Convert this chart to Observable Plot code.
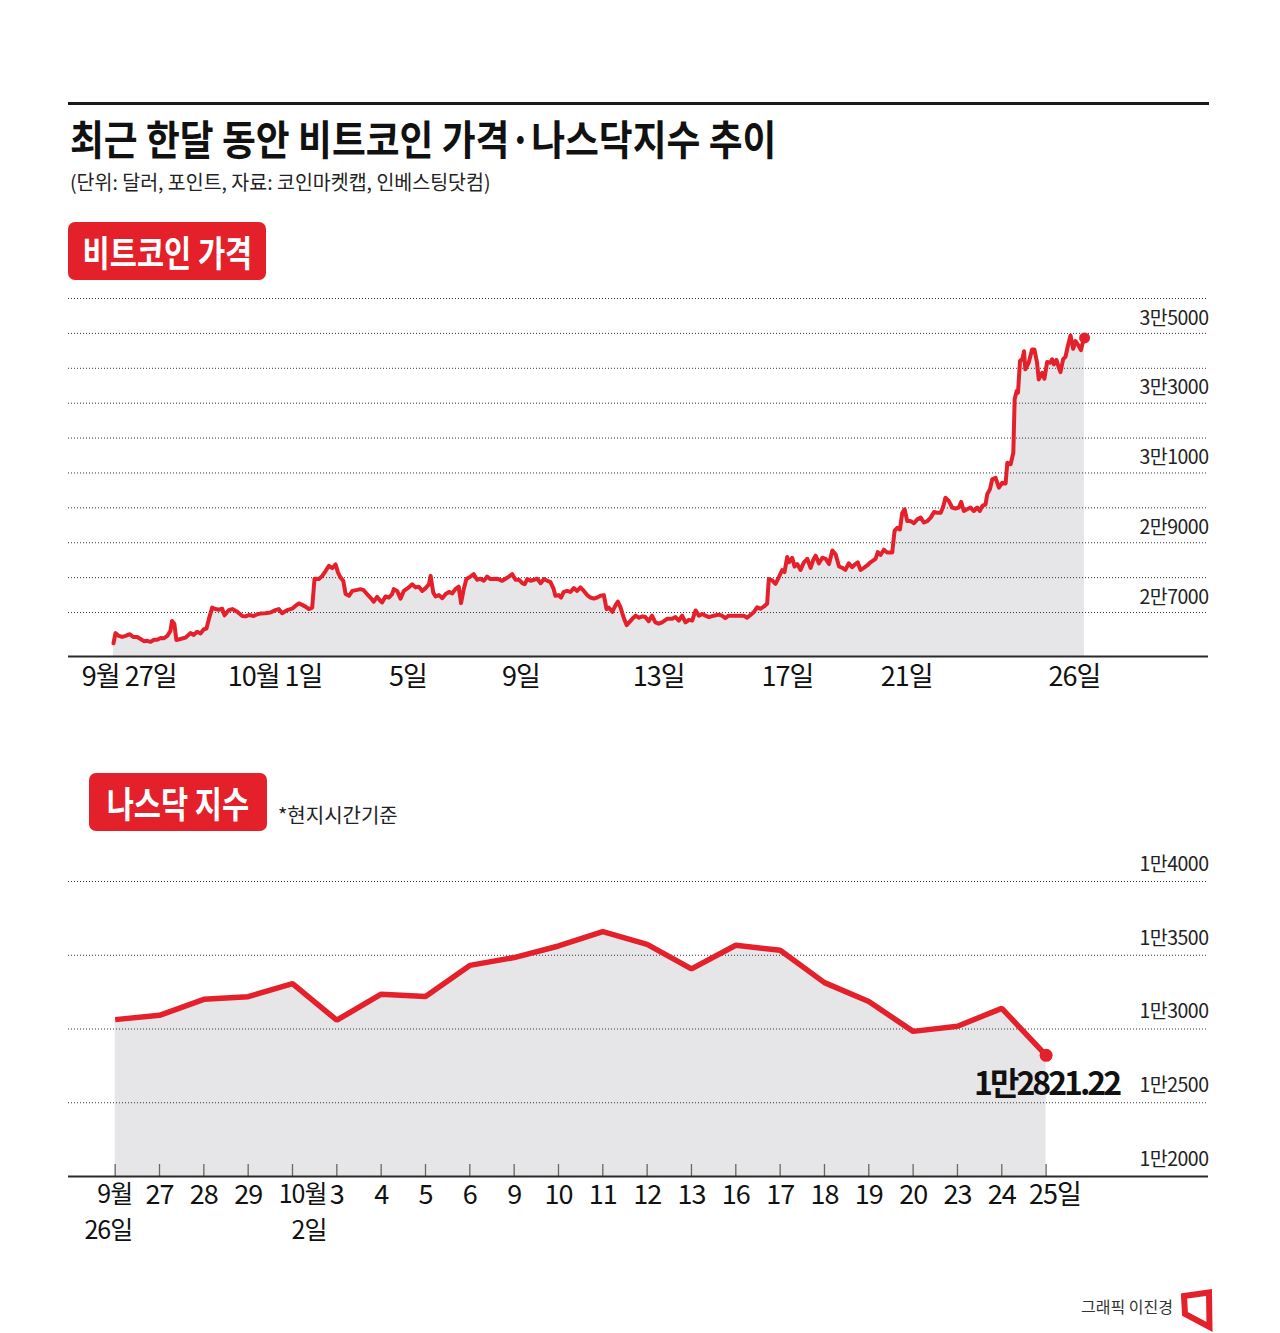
<!DOCTYPE html>
<html>
<head>
<meta charset="utf-8">
<script src="https://cdn.jsdelivr.net/npm/d3@7"></script>
<script src="https://cdn.jsdelivr.net/npm/@observablehq/plot@0.6"></script>
<style>
html,body{margin:0;padding:0;background:#fff;}
#page{position:relative;width:1280px;height:1333px;background:#fff;font-family:'Noto Sans CJK KR','Noto Sans',sans-serif;color:#111;overflow:hidden;}
.abs{position:absolute;}
.topRule{left:68px;top:102px;width:1141px;height:3px;background:#1a1a1a;}
.title{left:70px;top:115px;font-size:41px;font-weight:700;line-height:44px;white-space:nowrap;transform:scaleX(0.897);transform-origin:left center;color:#111;}
.sub{left:70px;top:169px;font-size:20px;line-height:26px;white-space:nowrap;transform:scaleX(0.974);transform-origin:left center;color:#222;}
.badge{background:#e4202a;border-radius:7px;color:#fff;display:flex;align-items:center;justify-content:center;}
.badge span{display:inline-block;font-size:36px;font-weight:700;white-space:nowrap;transform:scaleX(0.82);line-height:40px;}
.note{left:278px;top:802px;font-size:20px;line-height:26px;white-space:nowrap;color:#222;}
.credit{left:1081px;top:1296px;font-size:16px;line-height:20px;white-space:nowrap;color:#333;}
text[aria-label="xlab"]{letter-spacing:-1px;}
text[aria-label="ylab"]{letter-spacing:-0.5px;}
text[aria-label="lastlab"]{letter-spacing:-3px;}
</style>
</head>
<body>
<div id="page">
  <div class="abs topRule"></div>
  <div class="abs title">최근 한달 동안 비트코인 가격·나스닥지수 추이</div>
  <div class="abs sub">(단위: 달러, 포인트, 자료: 코인마켓캡, 인베스팅닷컴)</div>
  <div class="abs badge" style="left:68px;top:222px;width:198px;height:58px;"><span>비트코인 가격</span></div>
  <div class="abs badge" style="left:89px;top:773px;width:178px;height:58px;"><span>나스닥 지수</span></div>
  <div class="abs note">*현지시간기준</div>
  <div class="abs" id="btc" style="left:0;top:280px;"></div>
  <div class="abs" id="nas" style="left:0;top:840px;"></div>
  <div class="abs credit">그래픽 이진경</div>
  <svg class="abs" style="left:0;top:0;pointer-events:none" width="1280" height="1333">
    <polygon points="1184,1296 1209,1292.5 1209.5,1327 1185,1314" fill="none" stroke="#e4202a" stroke-width="6" stroke-linejoin="miter"/>
  </svg>
</div>
<script>
// ---------- Bitcoin (days since 9/27, USD) ----------
const btcDay = [
  0.00,0.06,0.16,0.26,0.36,0.49,0.59,0.71,0.81,0.91,
  1.01,1.11,1.21,1.31,1.41,1.50,1.61,1.70,1.75,1.82,
  1.88,2.00,2.15,2.30,2.40,2.50,2.60,2.70,2.78,2.85,
  2.95,3.05,3.15,3.25,3.32,3.45,3.55,3.70,3.85,3.95,
  4.05,4.19,4.30,4.39,4.54,4.69,4.84,4.94,5.04,5.19,
  5.34,5.44,5.54,5.64,5.74,5.84,5.94,6.01,6.14,6.24,
  6.34,6.44,6.54,6.64,6.71,6.79,6.87,6.94,7.04,7.14,
  7.29,7.38,7.48,7.58,7.68,7.78,7.88,7.98,8.03,8.13,
  8.23,8.33,8.38,8.48,8.58,8.68,8.83,8.93,9.03,9.13,
  9.23,9.33,9.43,9.48,9.56,9.63,9.73,9.83,9.93,10.03,
  10.13,10.22,10.32,10.39,10.47,10.55,10.67,10.77,10.87,10.97,
  11.07,11.17,11.27,11.47,11.62,11.72,11.82,11.92,12.02,12.12,
  12.22,12.29,12.37,12.47,12.57,12.67,12.77,12.87,12.97,13.06,
  13.16,13.21,13.31,13.38,13.46,13.56,13.66,13.76,13.86,13.96,
  14.06,14.16,14.26,14.36,14.46,14.56,14.66,14.74,14.81,14.91,
  15.01,15.08,15.16,15.26,15.34,15.51,15.61,15.71,15.81,15.90,
  16.00,16.10,16.20,16.30,16.40,16.55,16.70,16.80,16.90,17.00,
  17.10,17.20,17.30,17.40,17.50,17.60,17.70,17.80,17.94,18.09,
  18.19,18.29,18.39,18.54,18.69,18.84,18.94,19.04,19.14,19.24,
  19.34,19.44,19.54,19.59,19.69,19.79,19.89,19.99,20.06,20.14,
  20.19,20.29,20.36,20.44,20.54,20.64,20.74,20.84,20.92,20.99,
  21.09,21.19,21.29,21.39,21.49,21.59,21.69,21.79,21.88,21.98,
  22.08,22.18,22.25,22.33,22.43,22.53,22.63,22.78,22.85,22.93,
  23.03,23.13,23.28,23.35,23.43,23.51,23.58,23.65,23.73,23.83,
  23.93,24.03,24.13,24.23,24.33,24.43,24.53,24.63,24.73,24.81,
  24.87,24.97,25.07,25.17,25.27,25.34,25.42,25.52,25.62,25.72,
  25.82,25.90,25.97,26.07,26.12,26.20,26.27,26.37,26.47,26.57,
  26.67,26.72,26.82,26.90,26.94,27.00,27.04,27.10,27.17,27.22,
  27.26,27.36,27.46,27.53,27.61,27.66,27.76,27.83,27.91,28.01,
  28.06,28.11,28.19,28.26,28.31,28.39,28.46,28.53,28.61,28.69,
  28.76,28.83,28.92,28.97,29.03
];
const btcPrice = [
  26120,26410,26330,26300,26330,26380,26300,26300,26240,26180,
  26190,26160,26220,26220,26270,26260,26330,26470,26760,26670,
  26210,26240,26280,26410,26360,26450,26400,26520,26540,26810,
  27140,27100,27080,27110,26920,27070,27100,27020,26900,26890,
  26930,26900,26950,26970,26980,27000,27070,27100,26980,27070,
  27110,27190,27260,27220,27170,27100,27140,27970,27960,28050,
  28190,28340,28270,28380,28150,28000,27910,27530,27480,27620,
  27650,27670,27640,27530,27430,27310,27450,27330,27290,27460,
  27430,27530,27670,27620,27400,27620,27720,27810,27720,27740,
  27620,27700,27810,28050,27570,27460,27500,27410,27530,27590,
  27550,27670,27740,27270,27670,27960,28030,28100,27940,27970,
  27910,28030,27960,27970,27910,27970,28030,28100,27940,27940,
  27840,27810,27960,27910,27940,27970,27840,27960,27910,27880,
  27670,27480,27500,27430,27590,27620,27590,27700,27620,27720,
  27620,27500,27430,27400,27430,27480,27500,27100,27140,27020,
  27210,27310,27140,26830,26640,26820,26910,26850,26890,26870,
  26750,26910,26720,26680,26720,26820,26820,26870,26770,26910,
  26720,26790,26770,27060,26910,26960,26910,26870,26910,26940,
  26910,26840,26910,26910,26910,26910,26850,26930,27010,27150,
  27110,27170,27250,27960,27920,27820,28010,28220,28160,28590,
  28440,28570,28320,28390,28220,28440,28540,28280,28510,28630,
  28410,28570,28540,28390,28780,28660,28320,28280,28220,28410,
  28300,28390,28440,28220,28280,28350,28440,28540,28730,28650,
  28800,28720,28720,29340,29430,29380,29860,29960,29620,29620,
  29560,29670,29720,29580,29620,29720,29880,29860,29860,30050,
  30290,30200,30010,29980,30010,30170,29910,29960,30010,29910,
  30010,29910,30050,30100,30390,30530,30820,30860,30580,30720,
  30700,31290,31250,31580,33110,33350,33300,34210,34260,34490,
  33970,34160,34540,34540,34160,33680,33870,33700,34180,34160,
  34260,34110,34240,34020,33890,34260,34330,34640,34940,34560,
  34780,34680,34520,34710,34870
];
const btcGridValues = [27000,28000,29000,30000,31000,32000,33000,34000,35000,36000];
const btcLabelValues = [27000,29000,31000,33000,35000];
const btcTickDays = [0.47,4.83,8.80,12.18,16.30,20.15,23.71,28.73];
const btcTickLabels = ["9월 27일","10월 1일","5일","9일","13일","17일","21일","26일"];
const btcYMin = 25740, btcYMax = 36000;

// ---------- Nasdaq (daily close) ----------
const nasdaqLabels = ["9월\n26일","27","28","29","10월\n2일","3","4","5","6","9","10","11","12","13","16","17","18","19","20","23","24","25일"];
const nasdaqValues = [13063.61,13092.85,13201.28,13219.32,13307.77,13059.47,13236.01,13219.83,13431.34,13484.24,13562.84,13659.68,13574.22,13407.23,13567.98,13533.75,13314.30,13186.18,12983.81,13018.33,13139.88,12821.22];
const nasdaqGridValues = [12500,13000,13500,14000];
const nasdaqLabelValues = [12000,12500,13000,13500,14000];

// ---------- styles ----------
const red = "#e4202a";
const areaFill = "#e6e6e8";
const fontFamily = "'Noto Sans CJK KR','Noto Sans',sans-serif";
const fmtMan = v => `${Math.floor(v/10000)}만${String(v%10000).padStart(4,"0")}`;
const fmtManDec = v => `${Math.floor(v/10000)}만${(v%10000).toFixed(2)}`;
const svgStyle = {fontFamily, background: "transparent", overflow: "visible", color: "#111"};
const tag = name => () => name;

// Bitcoin chart
const btcData = btcDay.map((d, i) => ({d, v: btcPrice[i]}));
const btcLast = btcData[btcData.length - 1];
const btcPlot = Plot.plot({
  width: 1280, height: 430,
  marginLeft: 68, marginRight: 72, marginTop: 18, marginBottom: 54,
  x: {type: "linear", domain: [-1.345, 32.735], axis: null},
  y: {domain: [btcYMin, btcYMax], axis: null},
  style: svgStyle,
  marks: [
    Plot.areaY(btcData, {x: "d", y1: btcYMin, y2: "v", fill: areaFill}),
    Plot.ruleY(btcGridValues, {stroke: "#333", strokeWidth: 1, strokeDasharray: "1 2"}),
    Plot.ruleY([btcYMin], {stroke: "#2a2a2a", strokeWidth: 2}),
    Plot.lineY(btcData, {x: "d", y: "v", stroke: red, strokeWidth: 4, strokeLinejoin: "round", strokeLinecap: "round"}),
    Plot.dot([btcLast], {x: "d", y: "v", r: 5.5, fill: red, stroke: "none"}),
    Plot.text(btcLabelValues, {y: d => d, text: d => fmtMan(d), frameAnchor: "right", textAnchor: "end", lineAnchor: "middle", dy: -15, fontSize: 19.5, fill: "#222", ariaLabel: tag("ylab")}),
    Plot.text(btcTickDays, {x: d => d, text: (d, i) => btcTickLabels[i], frameAnchor: "bottom", lineAnchor: "middle", dy: 21, fontSize: 27, fill: "#111", ariaLabel: tag("xlab")})
  ]
});
document.getElementById("btc").appendChild(btcPlot);

// Nasdaq chart
const nasdaq = nasdaqLabels.map((lab, i) => {
  const [line1, line2 = ""] = lab.split("\n");
  return {i, lab, line1, line2, v: nasdaqValues[i]};
});
const nasLast = nasdaq[nasdaq.length - 1];
const twoLine = nasdaq.filter(d => d.line2);
const nasMarginTop = 41, nasMarginBottom = 84, nasHeight = 420;
const nasFrameH = nasHeight - nasMarginTop - nasMarginBottom;
const xlab = {frameAnchor: "bottom", lineAnchor: "middle", fontSize: 27, fill: "#111", ariaLabel: tag("xlab")};
const xlab2 = {...xlab, fontSize: 25};
const nasPlot = Plot.plot({
  width: 1280, height: nasHeight,
  marginLeft: 68, marginRight: 72, marginTop: nasMarginTop, marginBottom: nasMarginBottom,
  x: {type: "linear", domain: [-1.053, 24.663], axis: null},
  y: {domain: [12000, 14000], axis: null},
  style: svgStyle,
  marks: [
    Plot.areaY(nasdaq, {x: "i", y1: 12000, y2: "v", fill: areaFill}),
    Plot.ruleY(nasdaqGridValues, {stroke: "#333", strokeWidth: 1, strokeDasharray: "1 2"}),
    Plot.ruleX(nasdaq, {x: "i", insetTop: nasFrameH - 12, stroke: "#666", strokeWidth: 1.3}),
    Plot.ruleY([12000], {stroke: "#2a2a2a", strokeWidth: 2}),
    Plot.lineY(nasdaq, {x: "i", y: "v", stroke: red, strokeWidth: 5.5, strokeLinejoin: "miter", strokeLinecap: "butt"}),
    Plot.dot([nasLast], {x: "i", y: "v", r: 6.5, fill: red, stroke: "none"}),
    Plot.text([nasLast], {x: "i", y: "v", text: d => fmtManDec(d.v), textAnchor: "end", lineAnchor: "middle", dx: 73, dy: 29, fontSize: 32, fontWeight: 700, fill: "#111", ariaLabel: tag("lastlab")}),
    Plot.text(nasdaqLabelValues, {y: d => d, text: d => fmtMan(d), frameAnchor: "right", textAnchor: "end", lineAnchor: "middle", dy: -17, fontSize: 19.5, fill: "#222", ariaLabel: tag("ylab")}),
    Plot.text(nasdaq.filter(d => !d.line2 && d !== nasLast), {x: "i", text: "line1", dy: 19, ...xlab}),
    Plot.text([nasLast], {x: "i", text: "line1", textAnchor: "start", dx: -17, dy: 19, ...xlab}),
    Plot.text([twoLine[0]], {x: "i", text: "line1", textAnchor: "end", dx: 17, dy: 18, ...xlab2}),
    Plot.text([twoLine[0]], {x: "i", text: "line2", textAnchor: "end", dx: 17, dy: 54, ...xlab2}),
    Plot.text([twoLine[1]], {x: "i", text: "line1", textAnchor: "end", dx: 34, dy: 18, ...xlab2}),
    Plot.text([twoLine[1]], {x: "i", text: "line2", textAnchor: "end", dx: 34, dy: 54, ...xlab2})
  ]
});
document.getElementById("nas").appendChild(nasPlot);
</script>
</body>
</html>
